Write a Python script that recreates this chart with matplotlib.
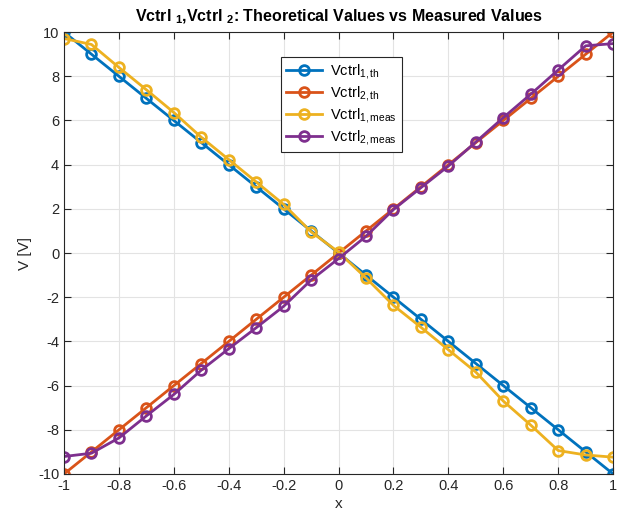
import numpy as np
import matplotlib
matplotlib.use('Agg')
import matplotlib.pyplot as plt

plt.rcParams['font.family'] = ['Liberation Sans', 'DejaVu Sans']
plt.rcParams['mathtext.default'] = 'regular'
plt.rcParams['axes.unicode_minus'] = False

# data
x = [-1.0, -0.9, -0.8, -0.7, -0.6, -0.5, -0.4, -0.3, -0.2, -0.1, 0.0,
     0.1, 0.2, 0.3, 0.4, 0.5, 0.6, 0.7, 0.8, 0.9, 1.0]
v1_th = [10, 9, 8, 7, 6, 5, 4, 3, 2, 1, 0, -1, -2, -3, -4, -5, -6, -7, -8, -9, -10]
v2_th = [-10, -9, -8, -7, -6, -5, -4, -3, -2, -1, 0, 1, 2, 3, 4, 5, 6, 7, 8, 9, 10]
v1_meas = [9.71, 9.44, 8.40, 7.39, 6.36, 5.24, 4.23, 3.22, 2.20, 0.96, 0.04,
           -1.13, -2.37, -3.36, -4.38, -5.39, -6.70, -7.79, -8.94, -9.14, -9.24]
v2_meas = [-9.21, -9.06, -8.37, -7.37, -6.40, -5.30, -4.33, -3.38, -2.41, -1.22, -0.25,
           0.76, 1.97, 2.96, 3.94, 5.03, 6.13, 7.19, 8.29, 9.38, 9.48]

labels = ['Vctrl$_{1,th}$', 'Vctrl$_{2,th}$', 'Vctrl$_{1,meas}$', 'Vctrl$_{2,meas}$']
colors = ['#0072BD', '#D95319', '#EDB120', '#7E2F8E']
series = [v1_th, v2_th, v1_meas, v2_meas]

fig = plt.figure(figsize=(6.24, 5.18), dpi=100)
ax = fig.add_axes([0.1026, 0.085, 0.880, 0.853])

for y, c, lab in zip(series, colors, labels):
    ax.plot(x, y, '-o', color=c, lw=2, ms=7, mfc='none', mew=2, label=lab)

ax.set_xlim(-1, 1)
ax.set_ylim(-10, 10)
ax.set_xticks(np.arange(-1, 1.01, 0.2))
ax.set_xticklabels(['-1', '-0.8', '-0.6', '-0.4', '-0.2', '0', '0.2', '0.4', '0.6', '0.8', '1'])
ax.set_yticks(np.arange(-10, 11, 2))
ax.grid(True, color='#e3e3e3', lw=0.8)
ax.set_axisbelow(True)
ax.tick_params(direction='in', top=True, right=True, colors='#262626', labelsize=10.5, length=5)
for s in ax.spines.values():
    s.set_color('#262626')
    s.set_linewidth(0.8)

ax.set_xlabel('x', fontsize=11, color='#262626', labelpad=3)
ax.set_ylabel('V [V]', fontsize=11, color='#262626', labelpad=4)
ax.set_title('Vctrl $_1$,Vctrl $_2$: Theoretical Values vs Measured Values',
             fontsize=11.5, fontweight='bold', pad=8)

leg = ax.legend(loc='upper left', bbox_to_anchor=(0.395, 0.943), fontsize=10.5,
                fancybox=False, framealpha=1, edgecolor='#262626',
                handlelength=2.5, borderpad=0.35, labelspacing=0.2, handletextpad=0.5,
                borderaxespad=0)
leg.get_frame().set_linewidth(0.8)

fig.savefig('out.png', dpi=100)
